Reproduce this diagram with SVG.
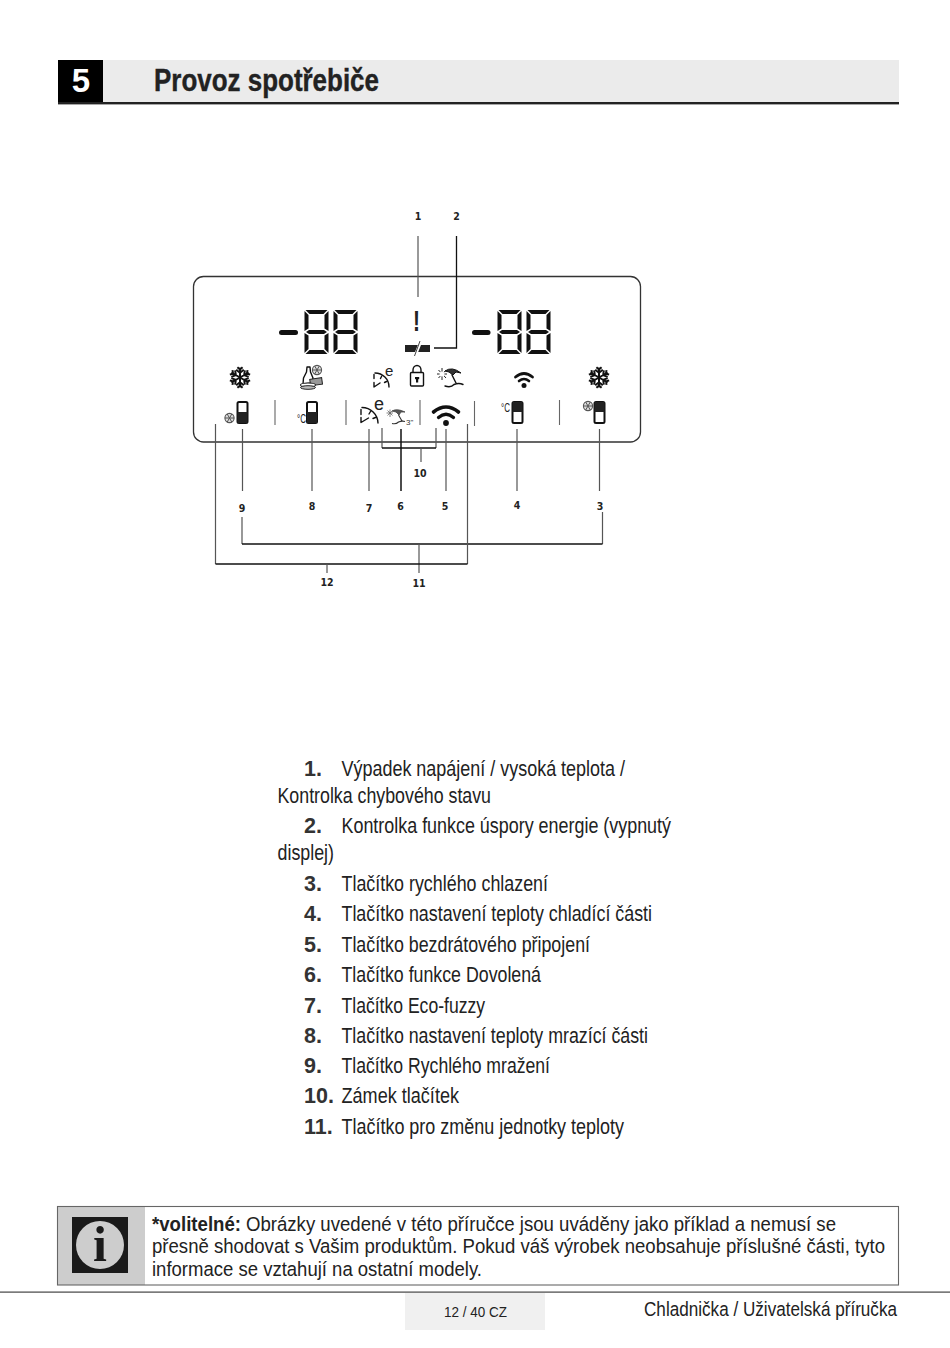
<svg xmlns="http://www.w3.org/2000/svg" xmlns:xlink="http://www.w3.org/1999/xlink" width="950" height="1348" viewBox="0 0 950 1348">
<style>
text{font-family:"Liberation Sans",Arial,sans-serif;fill:#222}
.li{font-size:22px}
.num{font-size:21.5px;font-weight:bold;fill:#333}
.inf{font-size:20.5px}
.lab{font-size:10.5px;font-weight:bold;text-anchor:middle;font-family:"DejaVu Sans Condensed","DejaVu Sans",sans-serif}
.c{fill:none;stroke:#555;stroke-width:1.2}
.k{fill:none;stroke:#111;stroke-width:1.6}
.sep{stroke:#666;stroke-width:1.1;fill:none}
.seg{fill:#111}
.ic{fill:none;stroke:#111;stroke-width:1.4;stroke-linecap:round;stroke-linejoin:round}
.wf{fill:none;stroke:#111;stroke-linecap:round}
.deg{font-size:12px;fill:#222}
</style>
<defs>
<g id="digit">
<polygon class="seg" points="1.500,0 23.500,0 19.500,4 5.500,4"/>
<polygon class="seg" points="0.500,1 4.500,5 4.500,18.500 0.500,21"/>
<polygon class="seg" points="24.500,1 20.500,5 20.500,18.500 24.500,21"/>
<polygon class="seg" points="2,22 5,20 20,20 23,22 20,24 5,24"/>
<polygon class="seg" points="0.500,23 4.500,25.500 4.500,39 0.500,43"/>
<polygon class="seg" points="24.500,23 20.500,25.500 20.500,39 24.500,43"/>
<polygon class="seg" points="1.500,44 5.500,40 19.500,40 23.500,44"/>
</g>
<g id="flake">
<g id="arm"><path d="M0 0V-10M-3.800 -7.800L0 -4.800L3.800 -7.800M-2.600 -10.200L0 -8L2.600 -10.200" fill="none" stroke="#111" stroke-width="2"/></g>
<use xlink:href="#arm" href="#arm" transform="rotate(60)"/>
<use xlink:href="#arm" href="#arm" transform="rotate(120)"/>
<use xlink:href="#arm" href="#arm" transform="rotate(180)"/>
<use xlink:href="#arm" href="#arm" transform="rotate(240)"/>
<use xlink:href="#arm" href="#arm" transform="rotate(300)"/>
</g>
<g id="miniflake">
<circle r="4.600" fill="#ddd" stroke="#555" stroke-width="1.100"/>
<path d="M-4.600 0H4.600M-2.300 -4L2.300 4M-2.300 4L2.300 -4" stroke="#555" stroke-width="1"/>
</g>
</defs>

<g id="header">
<rect x="103" y="60" width="796" height="42" fill="#ebebeb"/>
<rect x="58" y="60" width="45" height="44" fill="#000"/>
<rect x="58" y="102" width="841" height="2.400" fill="#222"/>
<text x="81" y="92" font-size="33" font-weight="bold" text-anchor="middle" style="fill:#fff">5</text>
<text x="154" y="91" font-size="31" font-weight="bold" textLength="225" lengthAdjust="spacingAndGlyphs" stroke="#222" stroke-width="0.400">Provoz spotřebiče</text>
</g>

<g id="panel">
<rect x="193.500" y="276.500" width="447" height="165.500" rx="10" fill="#fff" stroke="#333" stroke-width="1.300"/>
<path class="sep" d="M275 400V425M346 400V425M420 400V425M474.500 401V426M559.500 400V425"/>
</g>

<g id="display-left">
<rect x="279" y="330" width="19" height="5" rx="2.500" fill="#111"/>
<use xlink:href="#digit" href="#digit" x="304" y="310"/>
<use xlink:href="#digit" href="#digit" x="333" y="310"/>
</g>
<g id="display-right">
<rect x="472" y="330" width="18.500" height="5" rx="2.500" fill="#111"/>
<use xlink:href="#digit" href="#digit" x="497" y="310"/>
<use xlink:href="#digit" href="#digit" x="526" y="310"/>
</g>

<g id="alarm">
<text x="416.500" y="331" font-size="29" font-weight="bold" text-anchor="middle" style="fill:#222" textLength="7" lengthAdjust="spacingAndGlyphs">!</text>
<rect x="405" y="345" width="25" height="7" fill="#222"/>
<path d="M421 341L415 356" stroke="#fff" stroke-width="3"/>
<path d="M420 341L414.500 356" stroke="#444" stroke-width="1"/>
</g>

<g id="icon-freeze-top"><use xlink:href="#flake" href="#flake" transform="translate(240 377.500)"/></g>
<g id="icon-bottle">
<path class="ic" stroke-width="1.100" d="M307 367H310L310.500 372L313 378L312 383L303 384L303.500 378L306.500 372Z"/>
<rect x="310" y="378.500" width="12" height="6.500" fill="#999" stroke="#222" stroke-width="1" transform="rotate(-8 316 381)"/>
<ellipse cx="308" cy="385" rx="7.500" ry="2" fill="#fff" stroke="#222" stroke-width="1.100"/>
<ellipse cx="308" cy="387.500" rx="7.500" ry="1.800" fill="#bbb" stroke="#222" stroke-width="1"/>
<use xlink:href="#miniflake" href="#miniflake" transform="translate(317 370)"/>
</g>
<g id="icon-eco-small">
<path class="ic" stroke-width="1.500" d="M375 373A14 14 0 0 1 389 387M374 374.500V378.500M374 382.500V387L380 383M381.500 376.500L380.500 378.500M386.500 381.500L384.500 382.500"/>
<text x="385" y="375.500" font-size="15">e</text>
</g>
<g id="icon-lock">
<rect x="410.500" y="372.500" width="13" height="13.500" rx="1" fill="#fff" stroke="#111" stroke-width="1.400"/>
<path d="M413 372.500V370A4 4.500 0 0 1 421 370V372.500" fill="none" stroke="#111" stroke-width="1.400"/>
<rect x="416" y="377" width="2.200" height="5.500" fill="#111"/>
<rect x="415" y="377" width="4.200" height="2.200" fill="#111"/>
</g>
<g id="icon-beach">
<path d="M445 371Q452 366 461 373L456 372L453 375L449 372Z" fill="#333" stroke="#111" stroke-width="1"/>
<path class="ic" d="M452 375L456 383M445 386Q451 388 454 384.500Q459 382.500 463 384.500"/>
<path d="M442 368V380M437 374H447M438.500 370L446 378M438.500 378L446 370" stroke="#222" stroke-width="1" fill="none"/>
<circle cx="442" cy="374" r="2.500" fill="#fff"/>
</g>
<g id="icon-wifi-small">
<path class="wf" stroke-width="2.800" d="M515.500 377Q524 370 532.500 377"/>
<path class="wf" stroke-width="2.600" d="M519 381Q524 377 529 381"/>
<circle cx="524" cy="385.500" r="2.500" fill="#111"/>
</g>
<g id="icon-freeze-right"><use xlink:href="#flake" href="#flake" transform="translate(599 377.500)"/></g>

<g id="btn-9">
<use xlink:href="#miniflake" href="#miniflake" transform="translate(229.500 418)"/>
<rect x="237.500" y="402" width="10" height="21" rx="1.500" fill="#fff" stroke="#111" stroke-width="2"/>
<rect x="237.500" y="412" width="10" height="11" fill="#222"/>
</g>
<g id="btn-8">
<text class="deg" x="297" y="423" textLength="9" lengthAdjust="spacingAndGlyphs">°C</text>
<rect x="307" y="402" width="10" height="21" rx="1.500" fill="#fff" stroke="#111" stroke-width="2"/>
<rect x="307" y="412" width="10" height="11" fill="#222"/>
</g>
<g id="btn-7">
<path class="ic" stroke-width="1.700" d="M362 407.500A16 16 0 0 1 378 423M361 409.500V414.500M361 417.500V422.500L368.500 418M370.500 411.500L369 414M375.500 417.500L373 418.500"/>
<text x="374" y="409.500" font-size="18">e</text>
</g>
<g id="btn-6">
<path d="M392 411Q397 408 405 412L401 412L399 415L396 412Z" fill="#555" stroke="#444" stroke-width="0.800"/>
<path d="M398.500 415L402 421M392 423.500Q396 424.500 398.500 422Q402 420.500 405 421.500" fill="none" stroke="#333" stroke-width="1.100"/>
<path d="M390 409.500V417M386.500 413H393M387.500 410.500L392.500 415.500M387.500 415.500L392.500 410.500" stroke="#666" stroke-width="0.800" fill="none"/>
<text x="406" y="424.500" font-size="8" style="fill:#333">3"</text>
</g>
<g id="btn-5">
<path class="wf" stroke-width="3.600" d="M433.500 412Q446 402 458.500 412"/>
<path class="wf" stroke-width="3.300" d="M438.500 417.500Q446 411 453.500 417.500"/>
<circle cx="446" cy="423" r="2.900" fill="#111"/>
</g>
<g id="btn-4">
<text class="deg" x="501" y="412" textLength="9" lengthAdjust="spacingAndGlyphs">°C</text>
<rect x="512.500" y="402" width="10" height="21" rx="1.500" fill="#fff" stroke="#111" stroke-width="2"/>
<rect x="512.500" y="402" width="10" height="10" fill="#222"/>
</g>
<g id="btn-3">
<use xlink:href="#miniflake" href="#miniflake" transform="translate(588 406)"/>
<rect x="594.500" y="402" width="10" height="21" rx="1.500" fill="#fff" stroke="#111" stroke-width="2"/>
<rect x="594.500" y="402" width="10" height="10" fill="#222"/>
</g>

<g id="connectors">
<path class="c" d="M418 236V297"/>
<path class="k" style="stroke-width:1.300" d="M434 348H456.500V236"/>
<path class="c" d="M242.500 429V491M312 429V491M369 429V491M446 429V491M517 429V491M599.500 429V491"/>
<path class="k" style="stroke-width:1.500" d="M401 429V491"/>
<path class="c" d="M382 428V448M436 428V448"/>
<path class="k" d="M382 448H436"/>
<path class="c" d="M421 448V462"/>
<path class="c" d="M242 517V544M602.500 512V544"/>
<path class="k" d="M242 544H602.500"/>
<path class="c" d="M419 544V573"/>
<path class="c" d="M215.500 424V564M467.500 424V564"/>
<path class="k" d="M215.500 564H467.500"/>
<path class="c" d="M327 564V573"/>
</g>

<g id="labels">
<text class="lab" x="418" y="220">1</text>
<text class="lab" x="456.500" y="220">2</text>
<text class="lab" x="600" y="510">3</text>
<text class="lab" x="517" y="509">4</text>
<text class="lab" x="445" y="510">5</text>
<text class="lab" x="400.500" y="510">6</text>
<text class="lab" x="369" y="512">7</text>
<text class="lab" x="312" y="510">8</text>
<text class="lab" x="242" y="512">9</text>
<text class="lab" x="420" y="477">10</text>
<text class="lab" x="419" y="587">11</text>
<text class="lab" x="327" y="586">12</text>
</g>

<g id="list">
<text class="num" x="304" y="776">1.</text>
<text class="li" x="341.500" y="776" textLength="283.500" lengthAdjust="spacingAndGlyphs">Výpadek napájení / vysoká teplota /</text>
<text class="li" x="277.500" y="803" textLength="213.500" lengthAdjust="spacingAndGlyphs">Kontrolka chybového stavu</text>
<text class="num" x="304" y="833">2.</text>
<text class="li" x="341.500" y="833" textLength="329.500" lengthAdjust="spacingAndGlyphs">Kontrolka funkce úspory energie (vypnutý</text>
<text class="li" x="277.500" y="860" textLength="56.500" lengthAdjust="spacingAndGlyphs">displej)</text>
<text class="num" x="304" y="891">3.</text>
<text class="li" x="341.500" y="891" textLength="206.500" lengthAdjust="spacingAndGlyphs">Tlačítko rychlého chlazení</text>
<text class="num" x="304" y="921">4.</text>
<text class="li" x="341.500" y="921" textLength="310.500" lengthAdjust="spacingAndGlyphs">Tlačítko nastavení teploty chladící části</text>
<text class="num" x="304" y="952">5.</text>
<text class="li" x="341.500" y="952" textLength="248.500" lengthAdjust="spacingAndGlyphs">Tlačítko bezdrátového připojení</text>
<text class="num" x="304" y="982">6.</text>
<text class="li" x="341.500" y="982" textLength="199.500" lengthAdjust="spacingAndGlyphs">Tlačítko funkce Dovolená</text>
<text class="num" x="304" y="1013">7.</text>
<text class="li" x="341.500" y="1013" textLength="143.500" lengthAdjust="spacingAndGlyphs">Tlačítko Eco-fuzzy</text>
<text class="num" x="304" y="1043">8.</text>
<text class="li" x="341.500" y="1043" textLength="306.500" lengthAdjust="spacingAndGlyphs">Tlačítko nastavení teploty mrazící části</text>
<text class="num" x="304" y="1073">9.</text>
<text class="li" x="341.500" y="1073" textLength="208.500" lengthAdjust="spacingAndGlyphs">Tlačítko Rychlého mražení</text>
<text class="num" x="304" y="1103">10.</text>
<text class="li" x="341.500" y="1103" textLength="117.500" lengthAdjust="spacingAndGlyphs">Zámek tlačítek</text>
<text class="num" x="304" y="1134">11.</text>
<text class="li" x="341.500" y="1134" textLength="282.500" lengthAdjust="spacingAndGlyphs">Tlačítko pro změnu jednotky teploty</text>
</g>

<g id="info">
<rect x="58" y="1207" width="87" height="78" fill="#cdcdcd"/>
<rect x="57.500" y="1206.500" width="841" height="78.500" fill="none" stroke="#666" stroke-width="1.100"/>
<rect x="72" y="1217" width="56" height="56" fill="#1a1a1a"/>
<circle cx="100" cy="1245" r="24" fill="#cdcdcd"/>
<text x="100" y="1261" font-size="50" font-weight="bold" text-anchor="middle" style="font-family:'Liberation Serif',serif;fill:#1a1a1a">i</text>
<text class="inf" x="152" y="1231" font-weight="bold" textLength="89" lengthAdjust="spacingAndGlyphs">*volitelné:</text>
<text class="inf" x="246" y="1231" textLength="590" lengthAdjust="spacingAndGlyphs">Obrázky uvedené v této příručce jsou uváděny jako příklad a nemusí se</text>
<text class="inf" x="152" y="1253" textLength="733" lengthAdjust="spacingAndGlyphs">přesně shodovat s Vašim produktům. Pokud váš výrobek neobsahuje příslušné části, tyto</text>
<text class="inf" x="152" y="1276" textLength="330" lengthAdjust="spacingAndGlyphs">informace se vztahují na ostatní modely.</text>
</g>

<g id="footer">
<rect x="0" y="1291.500" width="950" height="1.200" fill="#444"/>
<rect x="405" y="1293" width="140" height="37" fill="#f0f0f0"/>
<text x="444" y="1317" font-size="15" textLength="63" lengthAdjust="spacingAndGlyphs">12 / 40 CZ</text>
<text x="644" y="1316" font-size="20.500" textLength="253" lengthAdjust="spacingAndGlyphs">Chladnička / Uživatelská příručka</text>
</g>
</svg>
